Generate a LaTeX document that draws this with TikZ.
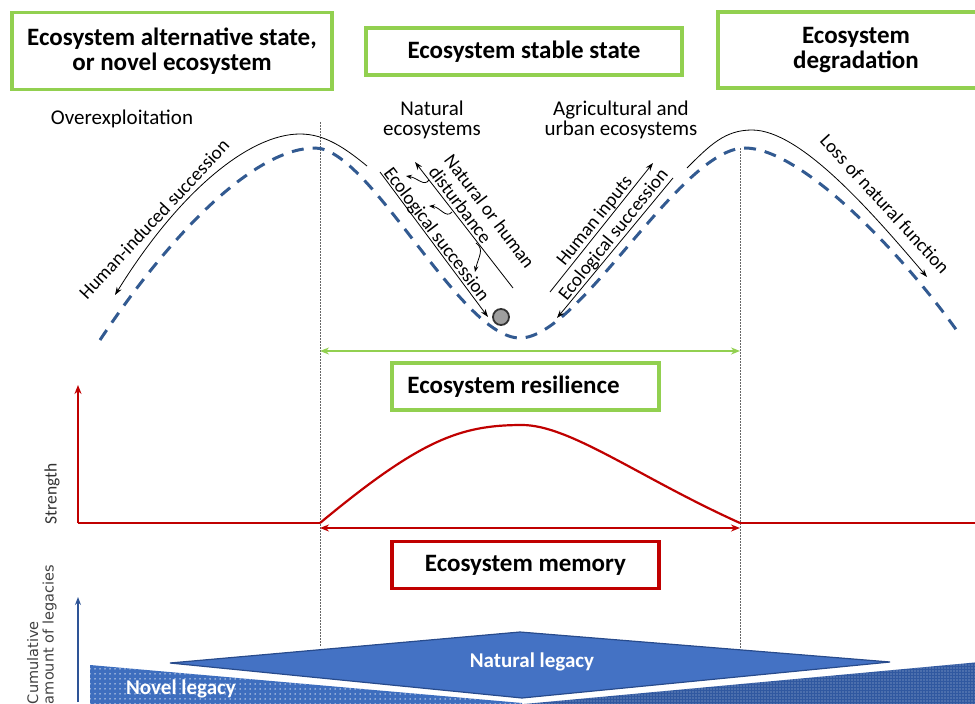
\documentclass[tikz,border=0pt]{standalone}
\usepackage{fontspec}
\setmainfont{Carlito}
\newfontfamily\dejavu{DejaVu Sans}
\usetikzlibrary{arrows.meta,patterns.meta}
\definecolor{boxgreen}{RGB}{146,208,80}
\definecolor{memred}{RGB}{192,0,0}
\definecolor{dashblue}{RGB}{50,90,145}
\definecolor{legblue}{RGB}{68,114,196}
\definecolor{legdark}{RGB}{40,75,140}
\definecolor{novleft}{RGB}{62,110,190}
\definecolor{novright}{RGB}{48,88,160}
\definecolor{axisblue}{RGB}{46,84,150}
\begin{document}
\begin{tikzpicture}[x=1pt,y=-1pt,
  every node/.style={inner sep=0pt, outer sep=0pt},
  titlebox/.style={draw=boxgreen, line width=3.5pt, align=center, font=\fontsize{25}{25.5}\selectfont\bfseries},
  membox/.style={draw=memred, line width=3.5pt, font=\fontsize{25}{25}\selectfont\bfseries},
  lbl/.style={font=\fontsize{21}{20}\selectfont, align=center},
  slopelbl/.style={font=\fontsize{19}{19.5}\selectfont},
  blk/.style={line width=0.8pt, -{Stealth[length=8pt,width=5.5pt]}},
  smallarr/.style={line width=0.8pt, -{Stealth[length=6pt,width=4.5pt]}},
  guide/.style={gray!80!black, line width=1pt, dash pattern=on 1.5pt off 1.5pt},
  path/.style={dashblue, line width=3pt, dash pattern=on 12pt off 9pt},
  redline/.style={memred, line width=2.2pt},
  legtext/.style={text=white, font=\fontsize{21}{21}\selectfont\bfseries}
]
\useasboundingbox (0,0) rectangle (975,704);
\clip (0,0) rectangle (975,704);

% ---------- title boxes ----------
\node[titlebox, minimum width=320pt, minimum height=77pt] (alt) at (172,51) {Ecosystem alternative state,\\or novel ecosystem};
\node[titlebox, minimum width=316pt, minimum height=47pt] (stable) at (524,51.5) {Ecosystem stable state};
\node[titlebox, minimum width=276pt, minimum height=76pt] (degr) at (856,50) {Ecosystem\\degradation};

% ---------- labels ----------
\node[lbl] (over) at (122,119) {Overexploitation};
\node[lbl] (nat) at (432,120) {Natural\\ecosystems};
\node[lbl] (agr) at (621,120) {Agricultural and\\urban ecosystems};

% ---------- guide lines ----------
\coordinate (d1t) at (320,122);
\coordinate (d1b) at (320,647);
\coordinate (d2t) at (740,148);
\coordinate (d2b) at (740,648);
\draw[guide] (d1t) -- (d1b);
\draw[guide] (d2t) -- (d2b);

% ---------- landscape path (dashed) ----------
\coordinate (p0) at (100,340);
\coordinate (p1) at (315,148);
\coordinate (p2) at (520,338);
\coordinate (p3) at (745,148);
\coordinate (p4) at (960,335);
\draw[path] (p0) .. controls (180,220) and (260,148) .. (p1)
  .. controls (370,148) and (460,338) .. (p2)
  .. controls (580,338) and (680,148) .. (p3)
  .. controls (800,148) and (900,250) .. (p4);

% ---------- black trajectories ----------
\coordinate (h0) at (367,166);
\coordinate (h1) at (300,134);
\coordinate (h2) at (115,295);
\draw[blk] (h0) .. controls (345,148) and (325,134) .. (h1)
  .. controls (250,134) and (180,190) .. (h2);
\node[slopelbl, rotate=47] (hinduced) at (154,219) {Human-induced succession};

\coordinate (r0) at (687,168);
\coordinate (r1) at (752,130);
\coordinate (r2) at (927,277);
\draw[blk] (r0) .. controls (710,145) and (725,130) .. (r1)
  .. controls (800,130) and (870,210) .. (r2);
\node[slopelbl, rotate=-47.5] (loss) at (885,204) {Loss of natural function};

% ---------- slopes of the valley ----------
\coordinate (es1a) at (380,172);
\coordinate (es1b) at (488,317);
\draw[blk] (es1a) -- (es1b);
\node[slopelbl, rotate=-53] (eslab1) at (436,235) {Ecological succession};

\coordinate (dsa) at (513,288);
\coordinate (dsb) at (415,162);
\draw[blk] (dsa) -- (dsb);
\node[slopelbl, rotate=-53, align=left] (dist) at (482,217) {Natural or human\\disturbance};

\coordinate (w1a) at (429,180);
\coordinate (w1b) at (406,176);
\draw[smallarr] (w1a) .. controls (424,187) and (418,178) .. (w1b);
\coordinate (w2a) at (452,212);
\coordinate (w2b) at (429,206);
\draw[smallarr] (w2a) .. controls (446,219) and (440,207) .. (w2b);
\coordinate (w3a) at (476,243);
\coordinate (w3b) at (475,272);
\draw[smallarr] (w3a) .. controls (485,249) and (478,258) .. (w3b);

\coordinate (hia) at (550,292);
\coordinate (hib) at (653,163);
\draw[blk] (hia) -- (hib);
\node[slopelbl, rotate=51] (hilab) at (595,221) {Human inputs};

\coordinate (es2a) at (673,178);
\coordinate (es2b) at (557,318);
\draw[blk] (es2a) -- (es2b);
\node[slopelbl, rotate=51] (eslab2) at (614,235) {Ecological succession};

% ball
\node[circle, draw=black!80, line width=1.8pt, fill=gray!75, minimum size=16pt] (ball) at (501,317) {};

% ---------- resilience ----------
\coordinate (gl) at (320,351);
\coordinate (gr) at (740,351);
\draw[boxgreen, line width=2pt, {Stealth[length=9pt,width=7pt]}-{Stealth[length=9pt,width=7pt]}] (gl) -- (gr);
\node[titlebox, minimum width=267pt, minimum height=47pt] (res) at (525.5,386.5) {\hspace*{-24pt}Ecosystem resilience};

% ---------- strength axis ----------
\coordinate (ao) at (78,523);
\coordinate (at) at (78,385);
\coordinate (c0) at (320,523);
\coordinate (c1) at (522,425);
\coordinate (c2) at (740,523);
\coordinate (c3) at (980,523);
\draw[redline, -{Stealth[length=9pt,width=7pt]}] (ao) -- (at);
\draw[redline] (ao) -- (c0);
\draw[redline] (c0) .. controls (420,440) and (460,425) .. (c1)
  .. controls (570,425) and (640,478) .. (c2);
\draw[redline] (c2) -- (c3);
\node[rotate=90, font=\fontsize{17.5}{18}\selectfont, text=black!80] (str) at (52,494) {Strength};

\coordinate (ml) at (320,528);
\coordinate (mr) at (740,528);
\draw[redline, {Stealth[length=9pt,width=7pt]}-{Stealth[length=9pt,width=7pt]}] (ml) -- (mr);
\node[membox, minimum width=267pt, minimum height=47pt] (mem) at (525.5,565) {Ecosystem memory};

% ---------- legacies ----------
\coordinate (ba) at (78,702);
\coordinate (bt) at (78,597);
\draw[axisblue, line width=2pt, -{Stealth[length=8pt,width=6pt]}] (ba) -- (bt);
\node[rotate=90, anchor=north west, align=left, text=black!75, font=\dejavu\fontsize{14.5}{15.5}\selectfont] (cum) at (27,704) {Cumulative\\amount of legacies};

\path[preaction={fill=novleft}, pattern={Dots[distance=5pt, radius=0.75pt]}, pattern color=white!85!novleft]
  (90,665) -- (522,703) -- (522,710) -- (90,710) -- cycle;
\path[preaction={fill=novright}, pattern={Dots[distance=3pt, radius=0.55pt]}, pattern color=white!60!novright]
  (524,704) -- (980,662) -- (980,710) -- (524,710) -- cycle;
\node[legtext] (novel) at (181,689) {Novel legacy};

\draw[legdark, line width=1.2pt, fill=legblue] (170,663) -- (520,632) -- (890,662) -- (522,698) -- cycle;
\node[legtext] (natleg) at (532,662) {Natural legacy};
\end{tikzpicture}
\end{document}
